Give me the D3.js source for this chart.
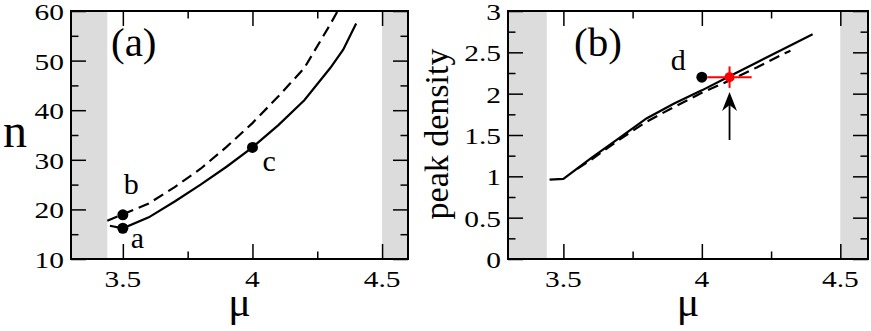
<!DOCTYPE html>
<html>
<head>
<meta charset="utf-8">
<script src="https://cdn.jsdelivr.net/npm/d3@7"></script>
<style>
  body { margin: 0; background: #fff; }
  svg { display: block; }
  text { font-family: "Liberation Serif", "Times New Roman", serif; fill: #000; }
</style>
</head>
<body>
<div id="holder"></div>
<script>
// ---- data ----
const muSolidA = [3.45, 3.5, 3.6, 3.7, 3.8, 3.9, 4.0, 4.1, 4.2, 4.3, 4.35, 4.4];
const nSolid = [16.7, 16.2, 18.4, 21.6, 25.0, 28.6, 32.5, 37.0, 42.0, 48.5, 52.2, 57.5];
const muDashedA = [3.44, 3.5, 3.6, 3.7, 3.8, 3.9, 4.0, 4.1, 4.2, 4.3, 4.35];
const nDashed = [17.7, 19.0, 21.2, 24.5, 28.2, 32.6, 37.4, 42.8, 48.5, 57.3, 62.0];

const muSolidB = [3.45, 3.5, 3.6, 3.7, 3.8, 3.9, 4.0, 4.1, 4.2, 4.3, 4.4];
const rhoSolid = [0.96, 0.97, 1.22, 1.46, 1.70, 1.88, 2.04, 2.21, 2.38, 2.55, 2.72];
const muDashedB = [3.55, 3.6, 3.7, 3.8, 3.9, 4.0, 4.1, 4.2, 4.3, 4.32];
const rhoDashed = [1.09, 1.20, 1.44, 1.66, 1.84, 2.01, 2.16, 2.32, 2.49, 2.52];

const pointLabelsA = ["a", "b", "c"];
const pointMuA = [3.5, 3.5, 4.0];
const pointNA = [16.2, 18.9, 32.5];

const pointLabelsB = ["d"];
const pointMuB = [4.0];
const pointRhoB = [2.2];

// red point with error bars, and the arrow pointing at it
const redMu = 4.1, redRho = 2.2, redErrMu = 0.08, redErrRho = 0.13;
const arrowMu = 4.1, arrowFrom = 1.44, arrowTo = 2.02;

const xDomain = [3.3, 4.6];
const shadedBands = [[3.3, 3.44], [4.5, 4.6]];
const xTicks = [3.5, 4, 4.5];
const xTickLabels = ["3.5", "4", "4.5"];
const xMinor = [3.75, 4.25];
const yTicksA = [10, 20, 30, 40, 50, 60];
const yTickLabelsA = ["10", "20", "30", "40", "50", "60"];
const yMinorA = [15, 25, 35, 45, 55];
const yTicksB = [0, 0.5, 1, 1.5, 2, 2.5, 3];
const yTickLabelsB = ["0", "0.5", "1", "1.5", "2", "2.5", "3"];
const yMinorB = [0.25, 0.75, 1.25, 1.75, 2.25, 2.75];

// ---- drawing ----
const w = 871, h = 331;
const svg = d3.select("#holder").append("svg")
    .attr("width", w)
    .attr("height", h);

const majorLen = 15, minorLen = 7.5;
const tickFont = "23px", tickStretch = 1.28;   // digits in the original are wide

function panel(cfg) {
    const x = d3.scaleLinear().domain(xDomain).range([cfg.left, cfg.right]);
    const y = d3.scaleLinear().domain(cfg.yDomain).range([cfg.bottom, cfg.top]);
    const g = svg.append("g");

    const clipId = "clip-" + cfg.id;
    svg.append("clipPath").attr("id", clipId)
        .append("rect")
        .attr("x", cfg.left).attr("y", cfg.top)
        .attr("width", cfg.right - cfg.left).attr("height", cfg.bottom - cfg.top);

    // gray bands
    g.selectAll("rect.band")
        .data(shadedBands)
        .enter()
        .append("rect")
            .attr("class", "band")
            .attr("x", d => x(d[0]))
            .attr("y", cfg.top)
            .attr("width", d => x(d[1]) - x(d[0]))
            .attr("height", cfg.bottom - cfg.top)
            .attr("fill", "#dcdcdc");

    // ticks on all four sides, pointing inward (labels drawn separately)
    const tickAxes = [
        [d3.axisBottom(x), `translate(0,${cfg.bottom})`, xTicks, xMinor],
        [d3.axisTop(x), `translate(0,${cfg.top})`, xTicks, xMinor],
        [d3.axisLeft(y), `translate(${cfg.left},0)`, cfg.yTicks, cfg.yMinor],
        [d3.axisRight(y), `translate(${cfg.right},0)`, cfg.yTicks, cfg.yMinor]
    ];
    tickAxes.forEach(([ax, tr, major, minor]) => {
        g.append("g")
            .attr("transform", tr)
            .call(ax.tickValues(minor).tickSize(-minorLen).tickFormat(""));
        g.append("g")
            .attr("transform", tr)
            .call(ax.tickValues(major).tickSize(-majorLen).tickFormat(""));
    });
    g.selectAll(".domain").remove();
    g.selectAll(".tick line").attr("stroke", "#000").attr("stroke-width", 1.5);
    g.selectAll(".tick text").remove();

    // tick labels
    g.selectAll("text.xlab")
        .data(d3.zip(xTicks, xTickLabels))
        .enter()
        .append("text")
            .attr("class", "xlab")
            .attr("transform", d => `translate(${x(d[0])},${cfg.bottom + 28}) scale(${tickStretch},1)`)
            .attr("text-anchor", "middle")
            .style("font-size", tickFont)
            .text(d => d[1]);
    g.selectAll("text.ylab")
        .data(d3.zip(cfg.yTicks, cfg.yTickLabels))
        .enter()
        .append("text")
            .attr("class", "ylab")
            .attr("transform", d => `translate(${cfg.left - 7},${y(d[0]) + 9}) scale(${tickStretch},1)`)
            .attr("text-anchor", "end")
            .style("font-size", tickFont)
            .text(d => d[1]);

    // frame
    g.append("rect")
        .attr("x", cfg.left).attr("y", cfg.top)
        .attr("width", cfg.right - cfg.left).attr("height", cfg.bottom - cfg.top)
        .attr("fill", "none")
        .attr("stroke", "#000")
        .attr("stroke-width", 2);

    // curves
    const line = d3.line().x(d => x(d[0])).y(d => y(d[1]));
    const plot = g.append("g").attr("clip-path", `url(#${clipId})`);
    plot.append("path")
        .attr("d", line(d3.zip(cfg.muSolid, cfg.ySolid)))
        .attr("fill", "none").attr("stroke", "#000").attr("stroke-width", 2.2);
    plot.append("path")
        .attr("d", line(d3.zip(cfg.muDashed, cfg.yDashed)))
        .attr("fill", "none").attr("stroke", "#000").attr("stroke-width", 2.2)
        .attr("stroke-dasharray", "11,6");

    // labelled points
    const pts = d3.zip(cfg.ptLabels, cfg.ptMu, cfg.ptY, cfg.ptOffsets);
    plot.selectAll("circle.pt")
        .data(pts)
        .enter()
        .append("circle")
            .attr("class", "pt")
            .attr("cx", d => x(d[1]))
            .attr("cy", d => y(d[2]))
            .attr("r", 5.5)
            .attr("fill", "#000");
    g.selectAll("text.ptlabel")
        .data(pts)
        .enter()
        .append("text")
            .attr("class", "ptlabel")
            .attr("x", d => x(d[1]) + d[3][0])
            .attr("y", d => y(d[2]) + d[3][1])
            .style("font-size", "30px")
            .text(d => d[0]);

    // panel tag
    g.append("text")
        .attr("x", cfg.left + cfg.tagDx)
        .attr("y", 56)
        .style("font-size", "41px")
        .text(cfg.tag);

    // x label
    g.append("text")
        .attr("x", (cfg.left + cfg.right) / 2)
        .attr("y", 316)
        .attr("text-anchor", "middle")
        .style("font-size", "42px")
        .text("\u03bc");

    return {x, y, g, plot};
}

// panel (a)
const pa = panel({
    id: "a", left: 71, right: 408, top: 11, bottom: 259,
    yDomain: [10, 60], yTicks: yTicksA, yTickLabels: yTickLabelsA, yMinor: yMinorA,
    muSolid: muSolidA, ySolid: nSolid, muDashed: muDashedA, yDashed: nDashed,
    ptLabels: pointLabelsA, ptMu: pointMuA, ptY: pointNA,
    ptOffsets: [[8, 20], [1, -21], [10, 24]],
    tag: "(a)", tagDx: 40
});
svg.append("text")
    .attr("x", 3)
    .attr("y", 147)
    .style("font-size", "48px")
    .text("n");

// panel (b)
const pb = panel({
    id: "b", left: 508, right: 868, top: 11, bottom: 259,
    yDomain: [0, 3], yTicks: yTicksB, yTickLabels: yTickLabelsB, yMinor: yMinorB,
    muSolid: muSolidB, ySolid: rhoSolid, muDashed: muDashedB, yDashed: rhoDashed,
    ptLabels: pointLabelsB, ptMu: pointMuB, ptY: pointRhoB,
    ptOffsets: [[-31, -7]],
    tag: "(b)", tagDx: 66
});
svg.append("text")
    .attr("transform", "translate(448,134) rotate(-90)")
    .attr("text-anchor", "middle")
    .style("font-size", "34px")
    .text("peak density");

// red point with error bars
const red = pb.g.append("g").attr("stroke", "#ff0000").attr("stroke-width", 2);
red.append("line")
    .attr("x1", pb.x(redMu - redErrMu)).attr("x2", pb.x(redMu + redErrMu))
    .attr("y1", pb.y(redRho)).attr("y2", pb.y(redRho));
red.append("line")
    .attr("x1", pb.x(redMu)).attr("x2", pb.x(redMu))
    .attr("y1", pb.y(redRho - redErrRho)).attr("y2", pb.y(redRho + redErrRho));
pb.g.append("circle")
    .attr("cx", pb.x(redMu)).attr("cy", pb.y(redRho))
    .attr("r", 5).attr("fill", "#ff0000");

// arrow
const ax0 = pb.x(arrowMu), ay0 = pb.y(arrowFrom), ay1 = pb.y(arrowTo);
pb.g.append("line")
    .attr("x1", ax0).attr("x2", ax0)
    .attr("y1", ay0).attr("y2", ay1 + 10)
    .attr("stroke", "#000").attr("stroke-width", 1.8);
pb.g.append("path")
    .attr("d", `M${ax0},${ay1} L${ax0 + 7.5},${ay1 + 19} L${ax0},${ay1 + 13} L${ax0 - 7.5},${ay1 + 19} Z`)
    .attr("fill", "#000");
</script>
</body>
</html>
